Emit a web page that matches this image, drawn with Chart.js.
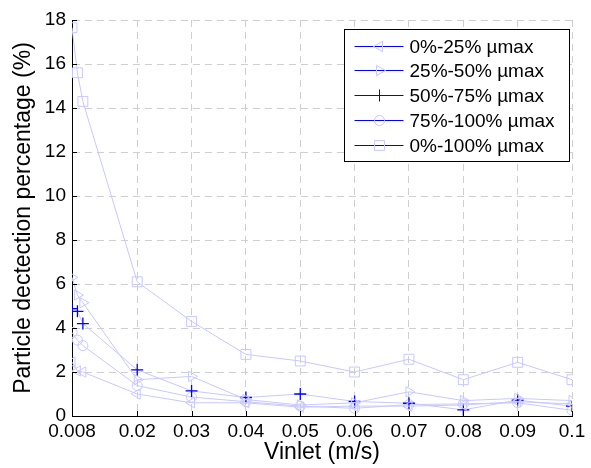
<!DOCTYPE html>
<html>
<head>
<meta charset="utf-8">
<script src="https://cdn.jsdelivr.net/npm/chart.js@4/dist/chart.umd.min.js"></script>
<style>
  body { margin: 0; background: #fff; }
  #myChart { display: block; }
</style>
</head>
<body>
<canvas id="myChart" width="591" height="468"></canvas>
<script>
// DATA
const vinlet = [0.008, 0.009, 0.01, 0.02, 0.03, 0.04, 0.05, 0.06, 0.07, 0.08, 0.09, 0.1];
const xTicks = [0.008, 0.02, 0.03, 0.04, 0.05, 0.06, 0.07, 0.08, 0.09, 0.1];
const xTickLabels = ['0.008', '0.02', '0.03', '0.04', '0.05', '0.06', '0.07', '0.08', '0.09', '0.1'];

const labels = ['0%-25% µmax', '25%-50% µmax', '50%-75% µmax', '75%-100% µmax', '0%-100% µmax'];
const p0to25 = [2.45, 2.05, 2.0, 1.0, 0.6, 0.6, 0.4, 0.45, 0.45, 0.5, 0.65, 0.55];
const p25to50 = [6.3, 5.5, 5.15, 1.65, 1.8, 0.75, 0.5, 0.6, 1.1, 0.7, 0.8, 0.7];
const p50to75 = [4.88, 4.76, 4.2, 2.1, 1.14, 0.84, 1.0, 0.66, 0.58, 0.28, 0.72, 0.45];
const p75to100 = [3.8, 3.45, 3.2, 1.38, 0.86, 0.65, 0.45, 0.35, 0.52, 0.55, 0.6, 0.26];
const p0to100 = [17.65, 15.6, 14.3, 6.1, 4.3, 2.8, 2.5, 2.0, 2.58, 1.65, 2.44, 1.65];

const FONT = '"Liberation Sans", Arial, Helvetica, sans-serif';
const lightBlue = '#c8c8ff';
const darkBlue = '#0000ff';

// marker style per series
const markers = [
  { pointStyle: 'triangle', rotation: -90, radius: 6, color: lightBlue },
  { pointStyle: 'triangle', rotation: 90, radius: 6, color: lightBlue },
  { pointStyle: 'cross', rotation: 0, radius: 6, color: darkBlue },
  { pointStyle: 'circle', rotation: 0, radius: 5, color: lightBlue },
  { pointStyle: 'rect', rotation: 0, radius: 7, color: lightBlue },
];
const series = [p0to25, p25to50, p50to75, p75to100, p0to100];

const datasets = series.map((vals, i) => ({
  label: labels[i],
  data: vals.map((v, j) => ({ x: vinlet[j], y: v })),
  borderColor: lightBlue,
  borderWidth: 1,
  backgroundColor: 'rgba(0,0,0,0)',
  pointStyle: markers[i].pointStyle,
  rotation: markers[i].rotation,
  pointRadius: markers[i].radius,
  pointBorderColor: markers[i].color,
  pointBackgroundColor: 'rgba(0,0,0,0)',
  pointBorderWidth: i == 2 ? 1.3 : 1,
  tension: 0,
}));

//inward tick marks (matlab style)
const innerTicks = {
  id: 'innerTicks',
  afterDraw(chart) {
    const ctx = chart.ctx;
    const a = chart.chartArea;
    ctx.save();
    ctx.strokeStyle = '#000';
    ctx.lineWidth = 1;
    ctx.beginPath();
    xTicks.forEach(v => {
      const px = Math.round(chart.scales.x.getPixelForValue(v)) + 0.5;
      ctx.moveTo(px, a.bottom);
      ctx.lineTo(px, a.bottom - 5);
    });
    for (let v = 0; v <= 18; v += 2) {
      const py = Math.round(chart.scales.y.getPixelForValue(v)) + 0.5;
      ctx.moveTo(a.left, py);
      ctx.lineTo(a.left + 5, py);
    }
    ctx.stroke();
    ctx.restore();
  }
};

//LEGEND
function drawMarker(ctx, m, x, y) {
  ctx.strokeStyle = m.color;
  ctx.fillStyle = 'rgba(0,0,0,0)';
  ctx.lineWidth = 1;
  if (Chart.helpers && Chart.helpers.drawPoint) {
    Chart.helpers.drawPoint(ctx, { pointStyle: m.pointStyle, rotation: m.rotation, radius: m.radius, borderWidth: 1 }, x, y);
  }
}

const boxLegend = {
  id: 'boxLegend',
  afterDraw(chart) {
    const ctx = chart.ctx;
    const a = chart.chartArea;
    const left = a.right - 227.5;
    const top = a.top + 9.5;
    const w = 225, h = 132;
    ctx.save();
    ctx.fillStyle = '#fff';
    ctx.fillRect(left, top, w, h);
    ctx.strokeStyle = '#000';
    ctx.lineWidth = 1;
    ctx.strokeRect(left, top, w, h);
    ctx.font = '19px ' + FONT;
    ctx.textBaseline = 'middle';
    labels.forEach((lab, i) => {
      const y = Math.round(top + 16 + i * 24.9) + 0.5;
      ctx.strokeStyle = darkBlue;
      ctx.beginPath();
      ctx.moveTo(left + 10, y);
      ctx.lineTo(left + 59, y);
      ctx.stroke();
      drawMarker(ctx, markers[i], left + 35, y);
      ctx.fillStyle = '#000';
      ctx.fillText(lab, left + 65, y + 1);
    });
    ctx.restore();
  }
};

const config = {
  type: 'line',
  data: { datasets },
  options: {
    responsive: false,
    animation: false,
    devicePixelRatio: 1,
    layout: { padding: { top: 20, right: 19, bottom: 0, left: 0 } },
    plugins: {
      legend: { display: false },
      tooltip: { enabled: false },
    },
    scales: {
      x: {
        type: 'linear',
        min: 0.008,
        max: 0.1,
        afterBuildTicks: (scale) => { scale.ticks = xTicks.map(v => ({ value: v })); },
        afterFit: (scale) => { scale.height = 52; },
        ticks: {
          autoSkip: false,
          maxRotation: 0,
          padding: 4,
          color: '#000',
          font: { family: FONT, size: 19 },
          callback: (v) => {
            const k = xTicks.findIndex(t => Math.abs(t - v) < 1e-9);
            return k >= 0 ? xTickLabels[k] : '';
          },
        },
        grid: { color: '#cfcfcf', drawTicks: false, lineWidth: 1 },
        border: { color: '#000', width: 1, dash: [7, 5] },
        title: {
          display: true,
          text: 'Vinlet (m/s)',
          color: '#000',
          font: { family: FONT, size: 23 },
          padding: { top: 0, bottom: 2 },
        },
      },
      y: {
        min: 0,
        max: 18,
        afterFit: (scale) => { scale.width = 72; },
        ticks: {
          stepSize: 2,
          padding: 6,
          color: '#000',
          font: { family: FONT, size: 19 },
        },
        grid: { color: '#cfcfcf', drawTicks: false, lineWidth: 1 },
        border: { color: '#000', width: 1, dash: [7, 5] },
        title: {
          display: true,
          text: 'Particle dectection percentage (%)',
          color: '#000',
          font: { family: FONT, size: 23 },
          padding: { top: 10, bottom: 0 },
        },
      },
    },
  },
  plugins: [innerTicks, boxLegend],
};

var chart = document.querySelector('#myChart');
var myChart = new Chart(chart, config);
</script>
</body>
</html>
